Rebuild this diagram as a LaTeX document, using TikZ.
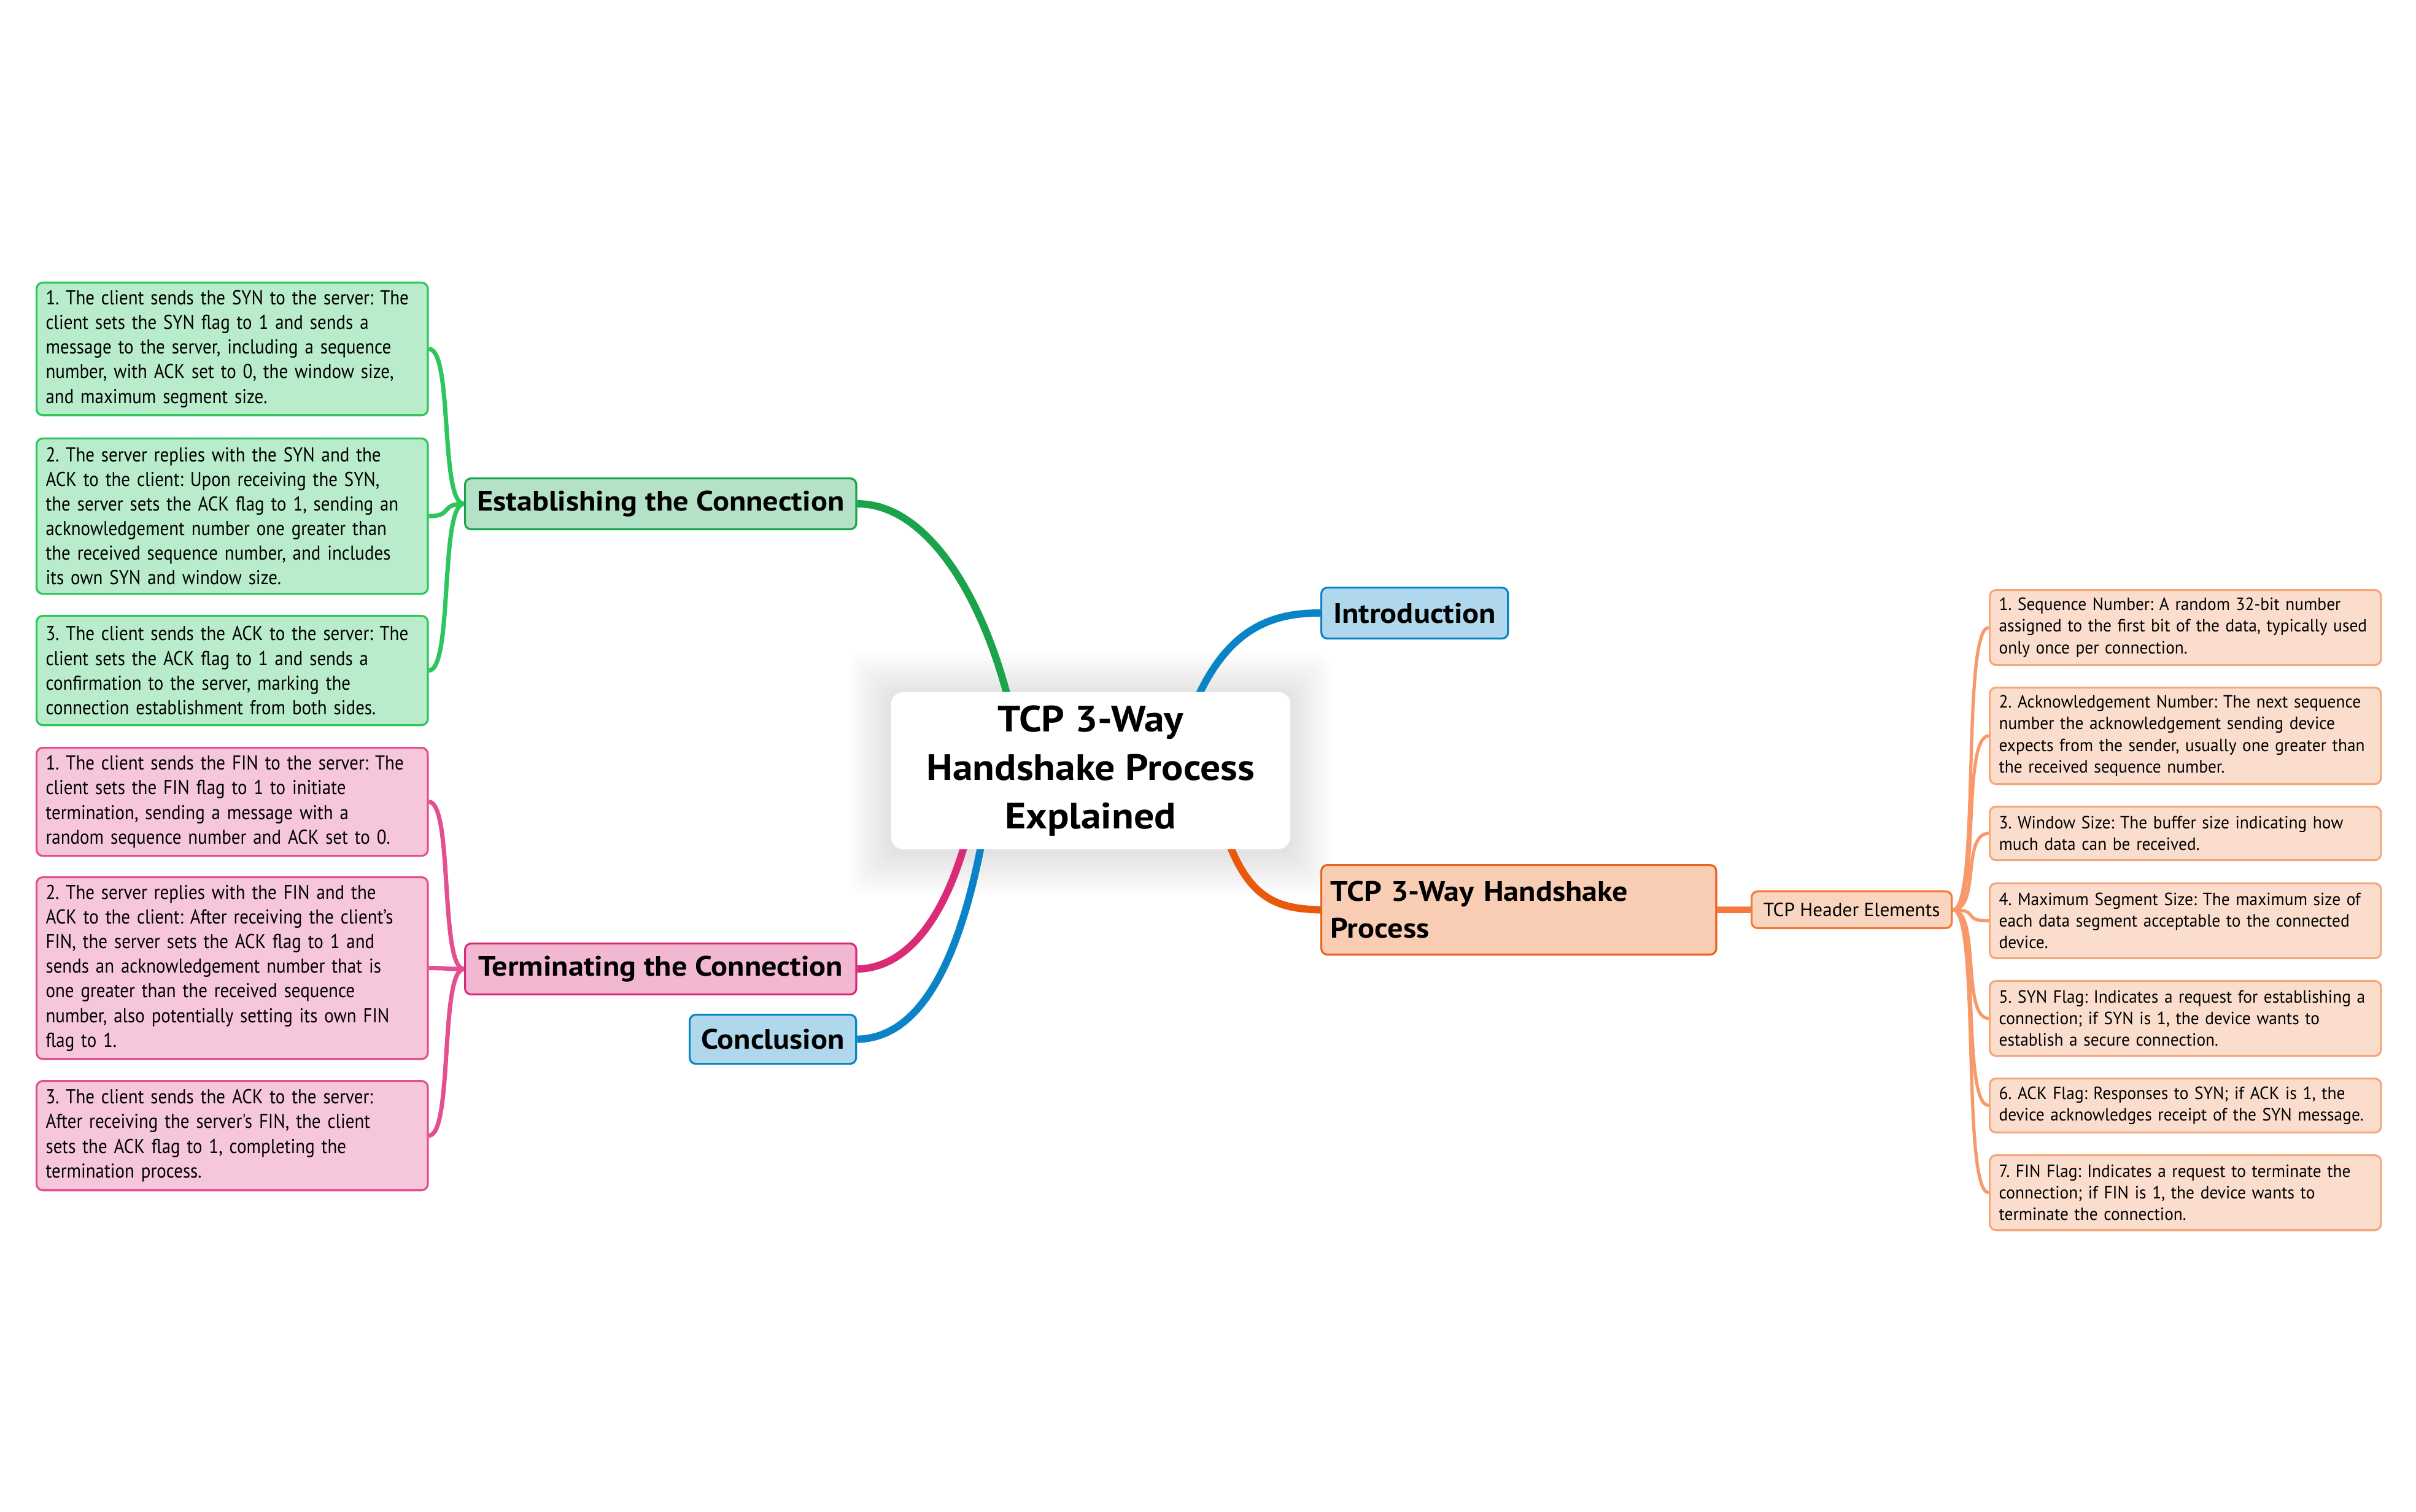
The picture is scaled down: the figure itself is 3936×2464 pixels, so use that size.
\documentclass[tikz,border=0pt]{standalone}
\usepackage{fontspec}
\setmainfont{PT Sans}
\newfontfamily\leftfont[FakeStretch=0.885]{PT Sans}
\newfontfamily\rightfont[FakeStretch=0.95]{PT Sans}
\newfontfamily\titlefont[FakeStretch=1.1]{PT Sans}
\usetikzlibrary{calc}
\pgfdeclarelayer{background}
\pgfdeclarelayer{paper}
\pgfsetlayers{paper,background,main}
\definecolor{gfill}{HTML}{B8ECCB}
\definecolor{gline}{HTML}{2DC65E}
\definecolor{gmfill}{HTML}{B3E2C6}
\definecolor{gmline}{HTML}{1AA34A}
\definecolor{gmain}{HTML}{1BA34B}
\definecolor{pfill}{HTML}{F6C6DA}
\definecolor{pline}{HTML}{E3508F}
\definecolor{pmfill}{HTML}{F2B8D2}
\definecolor{pmline}{HTML}{D9287A}
\definecolor{pmain}{HTML}{DB2A77}
\definecolor{bfill}{HTML}{B0D8EC}
\definecolor{bline}{HTML}{0A84C6}
\definecolor{omfill}{HTML}{F8CDB4}
\definecolor{omline}{HTML}{E8621C}
\definecolor{omain}{HTML}{E8590C}
\definecolor{hfill}{HTML}{F9D4BE}
\definecolor{hline}{HTML}{F4793A}
\definecolor{rfill}{HTML}{FBDDCD}
\definecolor{rline}{HTML}{F6A77A}
\definecolor{rconn}{HTML}{F7996A}
\tikzset{
  box/.style={draw, rounded corners=0.1cm, anchor=north west, inner xsep=0.15cm, inner ysep=0pt, line width=0.9pt},
  gbox/.style={box, fill=gfill, draw=gline, align=left, text width=6.07cm, font=\leftfont\frenchspacing\fontsize{9.3}{11.4}\selectfont},
  pbox/.style={box, fill=pfill, draw=pline, align=left, text width=6.07cm, font=\leftfont\frenchspacing\fontsize{9.3}{11.4}\selectfont},
  rbox/.style={box, fill=rfill, draw=rline, align=left, text width=6.07cm, font=\rightfont\frenchspacing\fontsize{8.2}{10}\selectfont},
  mainnode/.style={box, font=\titlefont\bfseries\fontsize{13}{17}\selectfont, align=center},
  gsub/.style={gline, line width=2pt},
  psub/.style={pline, line width=2pt},
  rsub/.style={rconn, line width=1.5pt},
  mainconn/.style={line width=3.4pt}
}
\begin{document}
\begin{tikzpicture}[x=0.01cm, y=-0.01cm]
\begin{pgfonlayer}{paper}
\fill[white] (0,0) rectangle (3936,2464);
\foreach \i in {1,...,14} \fill[black, opacity=0.006, rounded corners=0.25cm] (1451-\i*5,1127-\i*5+6) rectangle (2101+\i*5,1383+\i*5+6);
\end{pgfonlayer}
\useasboundingbox (0,0) rectangle (3936,2464);

% center
\node[fill=white, rounded corners=0.2cm, anchor=north west, minimum width=6.5cm, minimum height=2.56cm, inner sep=0pt,
  align=center, font=\titlefont\bfseries\fontsize{17}{22.5}\selectfont] (c) at (1451,1127) {TCP 3-Way\\Handshake Process\\Explained};

% main nodes
\node[mainnode, fill=gmfill, draw=gmline, minimum width=6.37cm, minimum height=0.83cm] (est) at (756,778) {Establishing the Connection};
\node[mainnode, fill=pmfill, draw=pmline, minimum width=6.37cm, minimum height=0.83cm] (term) at (756,1536) {Terminating the Connection};
\node[mainnode, fill=bfill, draw=bline, minimum width=2.71cm, minimum height=0.80cm] (conc) at (1122,1652) {Conclusion};
\node[mainnode, fill=bfill, draw=bline, minimum width=3.04cm, minimum height=0.83cm] (intro) at (2151,956) {Introduction};
\node[mainnode, fill=omfill, draw=omline, align=left, text width=6.13cm, minimum height=1.46cm] (hand) at (2151,1408) {TCP 3-Way Handshake\\Process};
\node[box, fill=hfill, draw=hline, minimum width=3.26cm, minimum height=0.60cm, font=\fontsize{8.9}{10}\selectfont] (hdr) at (2852,1451) {TCP Header Elements};

% green boxes
\node[gbox, minimum height=2.16cm] (g1) at (58,459) {1. The client sends the SYN to the server: The\\client sets the SYN flag to 1 and sends a\\message to the server, including a sequence\\number, with ACK set to 0, the window size,\\and maximum segment size.};
\node[gbox, minimum height=2.53cm] (g2) at (58,713) {2. The server replies with the SYN and the\\ACK to the client: Upon receiving the SYN,\\the server sets the ACK flag to 1, sending an\\acknowledgement number one greater than\\the received sequence number, and includes\\its own SYN and window size.};
\node[gbox, minimum height=1.78cm] (g3) at (58,1002) {3. The client sends the ACK to the server: The\\client sets the ACK flag to 1 and sends a\\confirmation to the server, marking the\\connection establishment from both sides.};

% pink boxes
\node[pbox, minimum height=1.76cm] (p1) at (58,1217) {1. The client sends the FIN to the server: The\\client sets the FIN flag to 1 to initiate\\termination, sending a message with a\\random sequence number and ACK set to 0.};
\node[pbox, minimum height=2.96cm] (p2) at (58,1428) {2. The server replies with the FIN and the\\ACK to the client: After receiving the client’s\\FIN, the server sets the ACK flag to 1 and\\sends an acknowledgement number that is\\one greater than the received sequence\\number, also potentially setting its own FIN\\flag to 1.};
\node[pbox, minimum height=1.78cm] (p3) at (58,1760) {3. The client sends the ACK to the server:\\After receiving the server's FIN, the client\\sets the ACK flag to 1, completing the\\termination process.};

% right boxes
\node[rbox, minimum height=1.22cm] (r1) at (3240,960) {1. Sequence Number: A random 32-bit number\\assigned to the first bit of the data, typically used\\only once per connection.};
\node[rbox, minimum height=1.57cm] (r2) at (3240,1119) {2. Acknowledgement Number: The next sequence\\number the acknowledgement sending device\\expects from the sender, usually one greater than\\the received sequence number.};
\node[rbox, minimum height=0.87cm] (r3) at (3240,1313) {3. Window Size: The buffer size indicating how\\much data can be received.};
\node[rbox, minimum height=1.22cm] (r4) at (3240,1438) {4. Maximum Segment Size: The maximum size of\\each data segment acceptable to the connected\\device.};
\node[rbox, minimum height=1.22cm] (r5) at (3240,1597) {5. SYN Flag: Indicates a request for establishing a\\connection; if SYN is 1, the device wants to\\establish a secure connection.};
\node[rbox, minimum height=0.88cm] (r6) at (3240,1756) {6. ACK Flag: Responses to SYN; if ACK is 1, the\\device acknowledges receipt of the SYN message.};
\node[rbox, minimum height=1.22cm] (r7) at (3240,1881) {7. FIN Flag: Indicates a request to terminate the\\connection; if FIN is 1, the device wants to\\terminate the connection.};

\begin{pgfonlayer}{background}
% main connectors
\draw[mainconn, gmain] ($(c.north west)!0.297!(c.north east)+(0,20)$) .. controls (1595,950) and (1500,820) .. (est.east);
\draw[mainconn, bline] ($(c.north west)!0.76!(c.north east)+(0,20)$) .. controls (1995,1035) and (2060,998) .. (intro.west);
\draw[mainconn, omain] ($(c.south west)!0.84!(c.south east)+(0,-20)$) .. controls (2035,1465) and (2080,1481) .. (hand.west);
\draw[mainconn, pmain] ($(c.south west)!0.19!(c.south east)+(0,-20)$) .. controls (1535,1510) and (1470,1578) .. (term.east);
\draw[mainconn, bline] ($(c.south west)!0.23!(c.south east)+(0,-20)$) .. controls (1555,1610) and (1480,1692) .. (conc.east);
\draw[hline, line width=3pt] (hand.east) -- (hdr.west);
\foreach \n in {g1,g2,g3} \draw[gsub] (est.west) .. controls +(-40,0) and +(40,0) .. (\n.east);
\foreach \n in {p1,p2,p3} \draw[psub] (term.west) .. controls +(-40,0) and +(40,0) .. (\n.east);
\foreach \n in {r1,r2,r3,r4,r5,r6,r7} \draw[rsub] (hdr.east) .. controls +(45,0) and +(-45,0) .. (\n.west);
\end{pgfonlayer}
\end{tikzpicture}
\end{document}
